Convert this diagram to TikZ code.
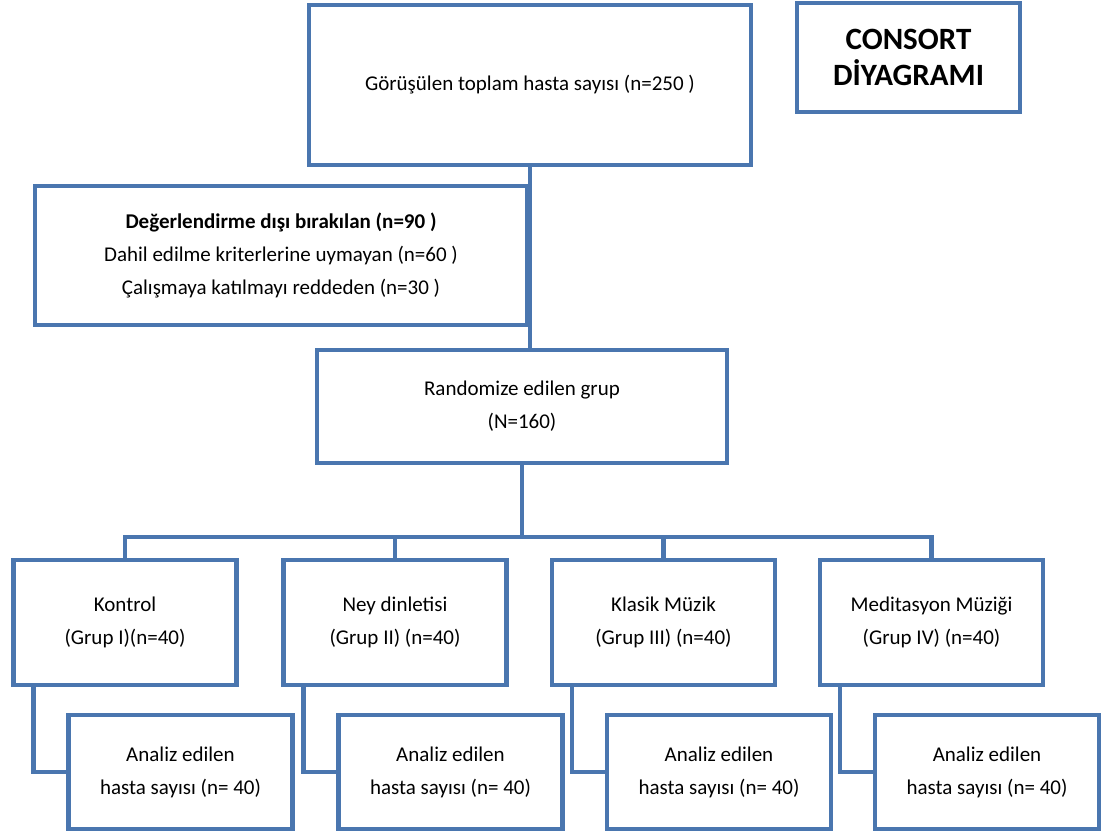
\documentclass[tikz,border=0pt]{standalone}
\usepackage{fontspec}
\setmainfont{Carlito}
\usepackage{tikz}
\usetikzlibrary{positioning, calc}
\definecolor{consortblue}{RGB}{74, 118, 175}

\tikzset{
    box/.style={draw=consortblue, line width=4.5pt, align=center, inner sep=0pt,
        font=\fontsize{21}{33}\selectfont},
    link/.style={draw=consortblue, line width=4.5pt},
}

\begin{document}
\begin{tikzpicture}[x=1pt, y=-1pt]
\useasboundingbox (0,0) rectangle (1107,834);

% Enrolment
\node[box, minimum width=442pt, minimum height=160pt] (screen) at (530,85) {Görüşülen toplam hasta sayısı (n=250 )};
\node[box, minimum width=223pt, minimum height=109pt, font=\fontsize{31}{36}\selectfont\bfseries] (title) at (908.5,57.5) {CONSORT\\DİYAGRAMI};
\node[box, minimum width=492pt, minimum height=139pt] (excl) at (281,255.5) {\textbf{Değerlendirme dışı bırakılan (n=90 )}\\Dahil edilme kriterlerine uymayan (n=60 )\\Çalışmaya katılmayı reddeden (n=30 )};
\node[box, minimum width=410pt, minimum height=113pt] (rand) at (522,406.5) {Randomize edilen grup\\(N=160)};
\draw[link] (screen.south) -- (screen.south |- rand.north);

% Allocation and analysis
\coordinate (bus) at (0,537);
\foreach \i/\cx/\ttl/\grp in {1/125/Kontrol/{(Grup I)(n=40)}, 2/395/Ney dinletisi/{(Grup II) (n=40)},
    3/663.5/Klasik Müzik/{(Grup III) (n=40)}, 4/931.5/Meditasyon Müziği/{(Grup IV) (n=40)}} {
    \node[box, minimum width=223pt, minimum height=125pt] (g\i) at (\cx,622.5) {\ttl\\\grp};
    \node[box, minimum width=224pt, minimum height=114pt, anchor=west] (a\i) at ($(g\i.west)+(55,149.5)$) {Analiz edilen\\hasta sayısı (n= 40)};
    \draw[link] ([xshift=22pt]g\i.south west) |- (a\i.west);
}
\draw[link] (g1.north) -- (g1.north |- bus) -- (g4.north |- bus) -- (g4.north);
\draw[link] (g2.north) -- (g2.north |- bus);
\draw[link] (g3.north) -- (g3.north |- bus);
\draw[link] (rand.south) -- (rand.south |- bus);
\end{tikzpicture}
\end{document}
